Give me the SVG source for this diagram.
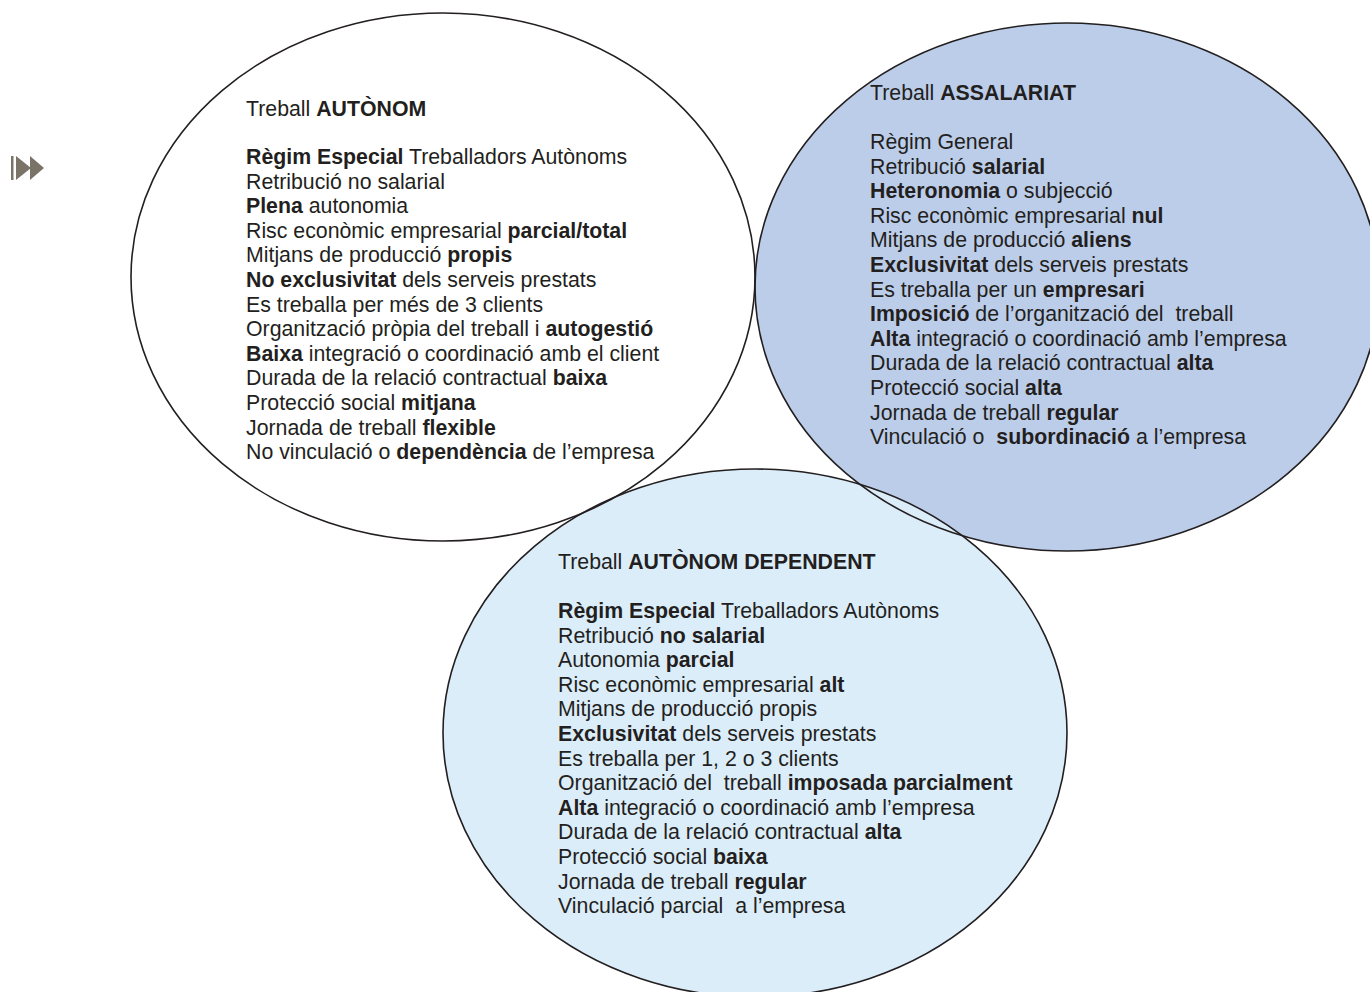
<svg xmlns="http://www.w3.org/2000/svg" width="1370" height="992" viewBox="0 0 1370 992">
<style>
text{font-family:"Liberation Sans",Arial,sans-serif;font-size:21.3px;fill:#231F20;white-space:pre}
.b{font-weight:bold}
.edge{fill:none;stroke:#231F20;stroke-width:1.6}
</style>
<rect width="1370" height="992" fill="#FFFFFF"/>
<g id="icon" fill="#7A7468">
<rect x="11" y="156" width="2.5" height="24"/>
<polygon points="16,156 31,168 16,180"/>
<polygon points="30,156 44,168 30,180"/>
</g>
<g id="fills">
<ellipse cx="1067" cy="287" rx="312" ry="264" fill="#BCCDE9"/>
<ellipse cx="755" cy="733" rx="312" ry="264" fill="#DCEDFA"/>
<ellipse cx="443" cy="277" rx="312" ry="264" fill="#FFFFFF"/>
</g>
<g id="connectors"></g>
<g id="autonom">
<ellipse class="edge" cx="443" cy="277" rx="312" ry="264"/>
<text x="246" y="116">Treball <tspan class="b">AUTÒNOM</tspan></text>
<text x="246" y="164"><tspan class="b">Règim Especial</tspan> Treballadors Autònoms</text>
<text x="246" y="188.6">Retribució no salarial</text>
<text x="246" y="213.2"><tspan class="b">Plena</tspan> autonomia</text>
<text x="246" y="237.8">Risc econòmic empresarial <tspan class="b">parcial/total</tspan></text>
<text x="246" y="262.4">Mitjans de producció <tspan class="b">propis</tspan></text>
<text x="246" y="287"><tspan class="b">No exclusivitat</tspan> dels serveis prestats</text>
<text x="246" y="311.6">Es treballa per més de 3 clients</text>
<text x="246" y="336.2">Organització pròpia del treball i <tspan class="b">autogestió</tspan></text>
<text x="246" y="360.8"><tspan class="b">Baixa</tspan> integració o coordinació amb el client</text>
<text x="246" y="385.4">Durada de la relació contractual <tspan class="b">baixa</tspan></text>
<text x="246" y="410">Protecció social <tspan class="b">mitjana</tspan></text>
<text x="246" y="434.6">Jornada de treball <tspan class="b">flexible</tspan></text>
<text x="246" y="459.2">No vinculació o <tspan class="b">dependència</tspan> de l’empresa</text>
</g>
<g id="assalariat">
<ellipse class="edge" cx="1067" cy="287" rx="312" ry="264"/>
<text x="870" y="100">Treball <tspan class="b">ASSALARIAT</tspan></text>
<text x="870" y="149">Règim General</text>
<text x="870" y="173.6">Retribució <tspan class="b">salarial</tspan></text>
<text x="870" y="198.2"><tspan class="b">Heteronomia</tspan> o subjecció</text>
<text x="870" y="222.8">Risc econòmic empresarial <tspan class="b">nul</tspan></text>
<text x="870" y="247.4">Mitjans de producció <tspan class="b">aliens</tspan></text>
<text x="870" y="272"><tspan class="b">Exclusivitat</tspan> dels serveis prestats</text>
<text x="870" y="296.6">Es treballa per un <tspan class="b">empresari</tspan></text>
<text x="870" y="321.2"><tspan class="b">Imposició</tspan> de l’organització del  treball</text>
<text x="870" y="345.8"><tspan class="b">Alta</tspan> integració o coordinació amb l’empresa</text>
<text x="870" y="370.4">Durada de la relació contractual <tspan class="b">alta</tspan></text>
<text x="870" y="395">Protecció social <tspan class="b">alta</tspan></text>
<text x="870" y="419.6">Jornada de treball <tspan class="b">regular</tspan></text>
<text x="870" y="444.2">Vinculació o  <tspan class="b">subordinació</tspan> a l’empresa</text>
</g>
<g id="autonom-dependent">
<ellipse class="edge" cx="755" cy="733" rx="312" ry="264"/>
<text x="558" y="569">Treball <tspan class="b">AUTÒNOM DEPENDENT</tspan></text>
<text x="558" y="618"><tspan class="b">Règim Especial</tspan> Treballadors Autònoms</text>
<text x="558" y="642.6">Retribució <tspan class="b">no salarial</tspan></text>
<text x="558" y="667.2">Autonomia <tspan class="b">parcial</tspan></text>
<text x="558" y="691.8">Risc econòmic empresarial <tspan class="b">alt</tspan></text>
<text x="558" y="716.4">Mitjans de producció propis</text>
<text x="558" y="741"><tspan class="b">Exclusivitat</tspan> dels serveis prestats</text>
<text x="558" y="765.6">Es treballa per 1, 2 o 3 clients</text>
<text x="558" y="790.2">Organització del  treball <tspan class="b">imposada parcialment</tspan></text>
<text x="558" y="814.8"><tspan class="b">Alta</tspan> integració o coordinació amb l’empresa</text>
<text x="558" y="839.4">Durada de la relació contractual <tspan class="b">alta</tspan></text>
<text x="558" y="864">Protecció social <tspan class="b">baixa</tspan></text>
<text x="558" y="888.6">Jornada de treball <tspan class="b">regular</tspan></text>
<text x="558" y="913.2">Vinculació parcial  a l’empresa</text>
</g>
</svg>
